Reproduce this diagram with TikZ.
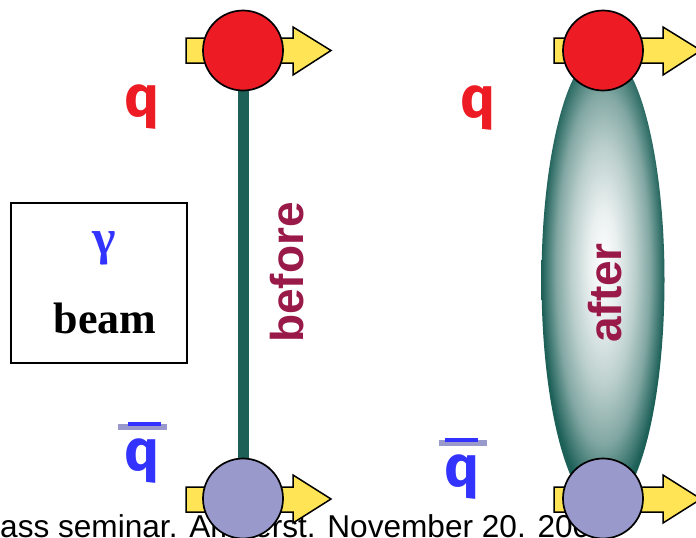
\documentclass[tikz,border=0pt]{standalone}
\usepackage{fontspec}
\setmainfont{Liberation Serif}
\setsansfont{Liberation Sans}
\newfontfamily\qfont{Fira Sans}
\usetikzlibrary{shapes.geometric}
\definecolor{qred}{RGB}{237,28,36}
\definecolor{qblue}{RGB}{51,51,255}
\definecolor{lav}{RGB}{153,153,204}
\definecolor{arrowyel}{RGB}{255,229,85}
\definecolor{tealbar}{RGB}{28,96,88}
\definecolor{maroontxt}{RGB}{153,26,72}
\pgfdeclareradialshading{tubeglow}{\pgfpoint{0bp}{2bp}}{%
  color(0bp)=(white);
  color(6bp)=(white!90!tealbar);
  color(13bp)=(white!70!tealbar);
  color(19bp)=(white!45!tealbar);
  color(23bp)=(white!15!tealbar);
  color(25bp)=(tealbar);
  color(50bp)=(tealbar)}
\tikzset{
  pusharrow/.style={draw=black, fill=arrowyel, line width=1.5pt, line join=miter},
  quark/.style={circle, draw=black, line width=1.7pt, minimum size=80pt, inner sep=0pt},
  qlabel/.style={anchor=base, inner sep=0pt, font=\qfont\bfseries\fontsize{58}{58}\selectfont},
  sidelabel/.style={rotate=90, anchor=base, inner sep=0pt, text=maroontxt,
    font=\sffamily\bfseries\fontsize{46}{46}\selectfont},
  barlav/.style={fill=lav, draw=none},
  barblue/.style={fill=qblue, draw=none},
  stringbar/.style={draw=tealbar, line width=11pt}
}
\begin{document}
\begin{tikzpicture}[x=1pt,y=-1pt]
\useasboundingbox (0,0) rectangle (696,538);
\clip (0,0) rectangle (696,538);
\fill[white] (0,0) rectangle (696,538);

% footer
\node[anchor=base west, inner sep=0pt, font=\sffamily\fontsize{31.6}{32}\selectfont] (foot) at (0,537) {ass seminar. Amherst. November 20. 200};

% coordinates of quarks
\coordinate (Lt) at (243,50.5);
\coordinate (Lb) at (243,498.5);
\coordinate (Rt) at (603,50.5);
\coordinate (Rb) at (603,498.5);

% arrows
\draw[pusharrow] (186,38) -- (293,38) -- (293,27) -- (331,50.5) -- (293,75) -- (293,63) -- (186,63) -- cycle;
\draw[pusharrow] (186,487) -- (293,487) -- (293,475) -- (331,499) -- (293,523) -- (293,512) -- (186,512) -- cycle;
\draw[pusharrow] (554,38) -- (663,38) -- (663,27) -- (701,50.5) -- (663,75) -- (663,63) -- (554,63) -- cycle;
\draw[pusharrow] (554,487) -- (663,487) -- (663,475) -- (701,499) -- (663,523) -- (663,512) -- (554,512) -- cycle;

% string before
\draw[stringbar] (Lt) -- (Lb);

% flux tube after
\node[ellipse, inner sep=0pt, minimum width=123pt, minimum height=460pt,
      shade, shading=tubeglow] (tube) at (603,280) {};

% quarks
\node[quark, fill=qred] (qLt) at (Lt) {};
\node[quark, fill=lav] (qLb) at (Lb) {};
\node[quark, fill=qred] (qRt) at (Rt) {};
\node[quark, fill=lav] (qRb) at (Rb) {};

% labels
\node[sidelabel] (before) at (303,272.5) {before};
\node[sidelabel] (after) at (621,293) {after};

\node[qlabel, text=qred] (qL) at (141.5,116) {q};
\node[qlabel, text=qred] (qR) at (478,117) {q};

\fill[barlav] (118,424) rectangle (167,429.5);
\fill[barblue] (128,422) rectangle (161,426);
\node[qlabel, text=qblue] (qbL) at (142,470) {q};
\fill[barlav] (439,440) rectangle (487,446);
\fill[barblue] (445,438) rectangle (478,442);
\node[qlabel, text=qblue] (qbR) at (462,486) {q};

% beam box
\draw[line width=2pt] (11,203) rectangle (187,363);
\node[anchor=base, inner sep=0pt, text=qblue, font=\bfseries\fontsize{50}{50}\selectfont] (gamma) at (104,254) {γ};
\node[anchor=base, inner sep=0pt, font=\bfseries\fontsize{44}{44}\selectfont] (beam) at (105,333) {beam};
\end{tikzpicture}
\end{document}
